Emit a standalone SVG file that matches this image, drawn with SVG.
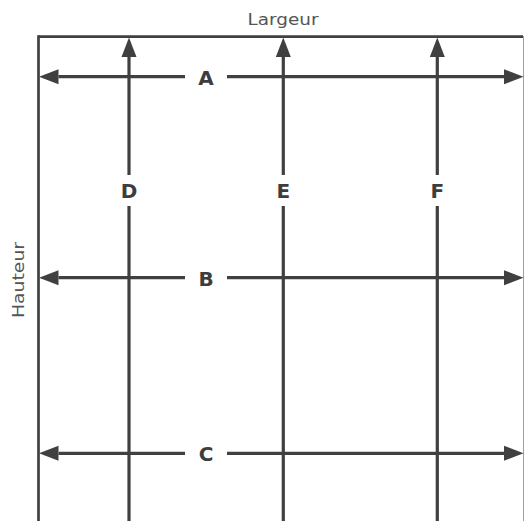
<svg xmlns="http://www.w3.org/2000/svg" width="524" height="521" viewBox="0 0 524 521">
  <style>
    .frame { stroke: #404040; stroke-width: 2.7; fill: none; }
    .edge { stroke: #a0a0a0; stroke-width: 1; fill: none; }
    .arr { stroke: #404040; stroke-width: 3.2; fill: none; }
    .lbl { font-family: "DejaVu Sans", "Liberation Sans", sans-serif; font-weight: bold; font-size: 20px; fill: #3d3d3d; text-anchor: middle; }
    .title { font-family: "DejaVu Sans", "Liberation Sans", sans-serif; font-size: 15.5px; fill: #555555; text-anchor: middle; }
  </style>
  <defs>
    <marker id="ah" markerUnits="userSpaceOnUse" markerWidth="20" markerHeight="16" refX="0" refY="7.5" orient="auto-start-reverse" viewBox="0 0 20 15">
      <path d="M0,0 L19.5,7.5 L0,15 z" fill="#404040"/>
    </marker>
  </defs>

  <g id="frame">
    <line class="frame" x1="38.5" y1="36.7" x2="523" y2="36.7"/>
    <line class="frame" x1="38.5" y1="35.3" x2="38.5" y2="521"/>
    <line class="edge" x1="523.5" y1="36" x2="523.5" y2="521"/>
  </g>

  <g id="titles">
    <text class="title" x="283" y="25" textLength="71" lengthAdjust="spacingAndGlyphs">Largeur</text>
    <text class="title" transform="translate(23.5,280) rotate(-90)" x="0" y="0" textLength="76" lengthAdjust="spacingAndGlyphs">Hauteur</text>
  </g>

  <g id="connectors">
    <line class="arr" x1="58.5" y1="76.7" x2="185" y2="76.7" marker-start="url(#ah)"/>
    <line class="arr" x1="227" y1="76.7" x2="504" y2="76.7" marker-end="url(#ah)"/>
    <line class="arr" x1="58.5" y1="277.7" x2="185" y2="277.7" marker-start="url(#ah)"/>
    <line class="arr" x1="227" y1="277.7" x2="504" y2="277.7" marker-end="url(#ah)"/>
    <line class="arr" x1="58.5" y1="453.3" x2="185" y2="453.3" marker-start="url(#ah)"/>
    <line class="arr" x1="227" y1="453.3" x2="504" y2="453.3" marker-end="url(#ah)"/>

    <line class="arr" x1="129" y1="57" x2="129" y2="175" marker-start="url(#ah)"/>
    <line class="arr" x1="129" y1="206" x2="129" y2="521"/>
    <line class="arr" x1="283.3" y1="57" x2="283.3" y2="175" marker-start="url(#ah)"/>
    <line class="arr" x1="283.3" y1="206" x2="283.3" y2="521"/>
    <line class="arr" x1="437.3" y1="57" x2="437.3" y2="175" marker-start="url(#ah)"/>
    <line class="arr" x1="437.3" y1="206" x2="437.3" y2="521"/>
  </g>

  <g id="node-A"><text class="lbl" x="206" y="84.5">A</text></g>
  <g id="node-B"><text class="lbl" x="206" y="285.5">B</text></g>
  <g id="node-C"><text class="lbl" x="206" y="460.5">C</text></g>
  <g id="node-D"><text class="lbl" x="129" y="197.5">D</text></g>
  <g id="node-E"><text class="lbl" x="283.3" y="197.5">E</text></g>
  <g id="node-F"><text class="lbl" x="437.3" y="197.5">F</text></g>
</svg>
